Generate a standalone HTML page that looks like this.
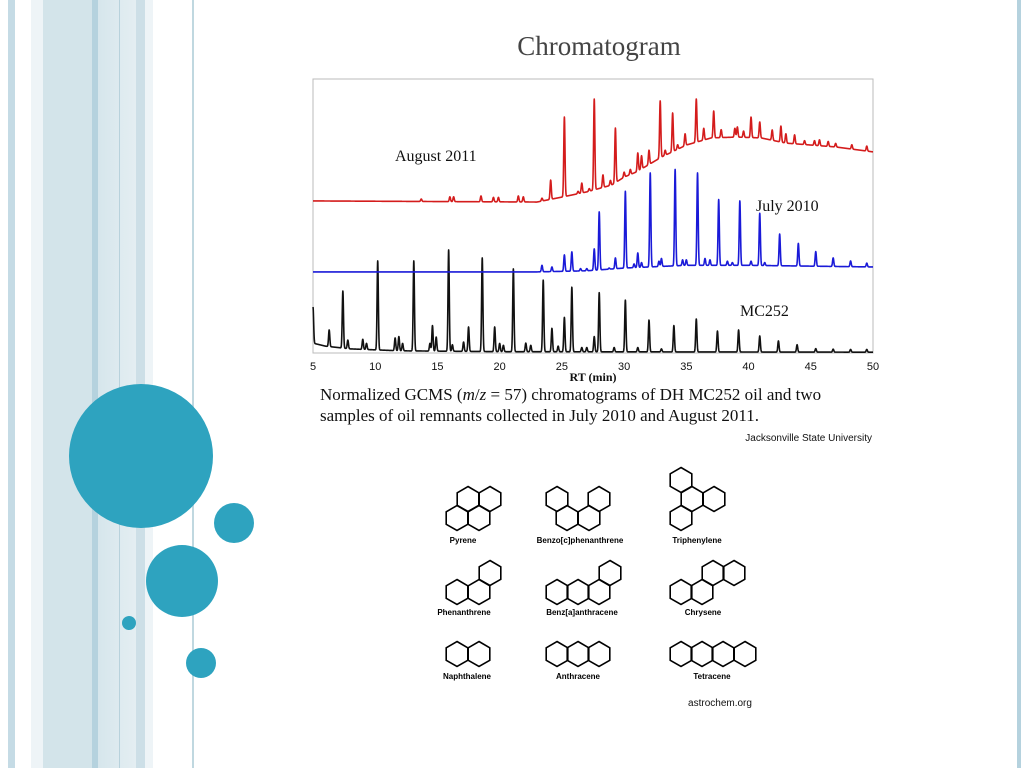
<!DOCTYPE html>
<html><head><meta charset="utf-8"><style>
body{margin:0;width:1024px;height:768px;overflow:hidden;background:#fff;position:relative;font-family:"Liberation Sans",sans-serif}
.s{position:absolute;top:0;height:768px}
.t{position:absolute;white-space:nowrap}
</style></head><body>
<div class="s" style="left:8px;width:7px;background:#c5dbe5"></div>
<div class="s" style="left:31px;width:12px;background:#eef4f7"></div>
<div class="s" style="left:43px;width:49px;background:#d3e4ea"></div>
<div class="s" style="left:92px;width:6px;background:#b5d2de"></div>
<div class="s" style="left:98px;width:38px;background:linear-gradient(90deg,#d6e6ec,#e4eef2)"></div>
<div class="s" style="left:119px;width:1px;background:#b8d2dc"></div>
<div class="s" style="left:136px;width:9px;background:#cddfe7"></div>
<div class="s" style="left:145px;width:8px;background:#eef4f7"></div>
<div class="s" style="left:192px;width:2px;background:#c0d8e0"></div>
<div class="s" style="left:1017px;width:4px;background:#b5d2de"></div>

<svg width="1024" height="768" style="position:absolute;left:0;top:0">
<g fill="#2ea3bf">
<circle cx="141" cy="456" r="72"/><circle cx="234" cy="523" r="20"/><circle cx="182" cy="581" r="36"/><circle cx="129" cy="623" r="7"/><circle cx="201" cy="663" r="15"/>
</g></svg>

<div class="t" style="left:0;width:1198px;text-align:center;top:31px;font:27px 'Liberation Serif',serif;color:#444">Chromatogram</div>

<svg id="chart" width="1024" height="768" style="position:absolute;left:0;top:0"></svg>

<div class="t" style="left:320px;top:384px;font:17px/21px 'Liberation Serif',serif;color:#111">Normalized GCMS (<i>m</i>/<i>z</i> = 57) chromatograms of DH MC252 oil and two<br>samples of oil remnants collected in July 2010 and August 2011.</div>
<div class="t" style="left:700px;width:172px;text-align:right;top:433px;font-size:10px;color:#111">Jacksonville State University</div>
<div class="t" style="left:660px;width:120px;text-align:center;top:698px;font-size:10px;color:#111">astrochem.org</div>

<svg id="mol" width="1024" height="768" style="position:absolute;left:0;top:0"></svg>

<script>
// ---- chart data ----
const xTicks=[5,10,15,20,25,30,35,40,45,50];
const blackBase=[[5,3.6],[6,2.5],[8,1.5],[12,0.8],[20,0.5],[50,0.3]];
const blackPeaks=[[5.0,16.8],[6.3,8.4],[7.4,22.6],[7.8,4.7],[9.0,5],[9.3,3.5],[10.2,33.6],[11.6,5.5],[11.9,6],[12.2,3.5],[13.1,33.6],[14.4,3.5],[14.6,10],[14.9,5.8],[15.9,37.6],[16.2,3],[17.1,4],[17.5,9.5],[18.6,34.7],[19.6,9.5],[20.0,3.5],[20.3,2.8],[21.1,30.7],[22.1,3.6],[22.5,2.8],[23.5,26.6],[24.2,9],[24.7,2.5],[25.2,13],[25.8,24],[26.6,2],[27.0,2],[27.6,6],[28.0,22],[29.2,2],[30.1,19.3],[31.1,2],[32.0,12],[33.0,1.5],[34.0,10],[35.8,12.4],[37.5,8],[39.2,8.4],[40.9,6.2],[42.4,4.4],[43.9,3],[45.4,1.6],[46.8,1.4],[48.2,1.3],[49.5,1.3]];
const blueBase=[[5,29.6],[23,29.6],[27,30],[30,31],[35,32],[40,32],[50,31.4]];
const bluePeaks=[[23.4,32],[24.2,31.4],[25.2,35.8],[25.8,36.9],[26.5,30.8],[27.0,30.8],[27.6,38],[28.0,51.5],[28.8,31],[29.3,34.7],[30.1,59],[30.8,32.5],[31.1,36.5],[31.4,33],[32.1,65.7],[32.8,33.5],[33.0,34.5],[34.1,67],[34.7,34],[35.0,34],[35.9,65.7],[36.5,34.5],[36.9,34],[37.6,56],[38.3,33.5],[38.7,33],[39.3,55.5],[40.2,33.5],[40.9,51],[41.3,33],[42.5,43.4],[44.0,40],[45.4,37],[46.8,34.7],[48.2,33.6],[49.5,32.8]];
const redBase=[[5,55.5],[23,55.1],[25,56.9],[27,58.8],[29,61.3],[30,64.2],[31,66.1],[33,71.5],[35,75.9],[37,78.5],[39,78.8],[41,78.5],[43,76.6],[45,75.9],[47,75.2],[50,73.4]];
const redPeaks=[[13.7,56.2],[16.0,57],[16.3,57],[18.5,57.3],[19.5,56.8],[19.9,56.8],[21.5,57.3],[21.9,57],[23.4,56.5],[24.1,63.1],[25.2,86.1],[26.3,59],[26.6,62],[27.2,60],[27.6,92.7],[28.3,65],[28.9,63],[29.3,82.1],[30.0,66],[30.5,67],[31.1,73],[31.4,72],[32.0,74],[32.9,92],[33.3,74],[33.9,87.6],[34.3,76],[34.9,80],[35.8,92.7],[36.4,82],[37.2,88.3],[37.8,81.5],[38.9,82],[39.1,82.5],[39.6,81],[40.2,86.1],[40.9,84.3],[41.9,81.4],[42.6,82.8],[43.0,80],[43.7,79.6],[44.5,77.5],[45.3,77.5],[45.7,77.8],[46.4,77.2],[47.0,76.5],[48.3,76],[49.5,75.5]];

const X0=313,X1=873,Y0=353,Y1=79;
function xs(v){return X0+(v-5)/(50-5)*(X1-X0);}
function ys(v){return Y0-v/100*(Y0-Y1);}
function interp(arr,x){if(x<=arr[0][0])return arr[0][1];for(let i=1;i<arr.length;i++){if(x<=arr[i][0]){const a=arr[i-1],b=arr[i];return a[1]+(b[1]-a[1])*(x-a[0])/(b[0]-a[0]);}}return arr[arr.length-1][1];}
const svg=document.getElementById('chart');const NS='http://www.w3.org/2000/svg';
function mk(tag,attrs){const e=document.createElementNS(NS,tag);for(const k in attrs)e.setAttribute(k,attrs[k]);svg.appendChild(e);return e;}
const frame=mk('rect',{x:X0,y:Y1,width:X1-X0,height:Y0-Y1,fill:'none',stroke:'#bbb','stroke-width':1});


function trace(base,peaks,color,name){
  const amps=peaks.map(p=>[p[0],p[1]-interp(base,p[0])]);
  let pts=[];
  for(let x=5;x<=50.0001;x+=0.01){
    let v=interp(base,x);
    for(const p of amps){const d=(x-p[0])/0.05;if(Math.abs(d)<5)v+=p[1]*Math.exp(-d*d/2);}
    pts.push(xs(x).toFixed(2)+','+ys(v).toFixed(2));
  }
  const pl=mk('polyline',{points:pts.join(' '),fill:'none',stroke:color,'stroke-width':1.6,'stroke-linejoin':'round'});
  
  
}
trace(blackBase,blackPeaks,'#111','series-mc252');
trace(blueBase,bluePeaks,'#1a1ad8','series-july-2010');
trace(redBase,redPeaks,'#d41c1c','series-august-2011');
for(const t of xTicks){
  const tx=mk('text',{x:xs(t),y:370,'text-anchor':'middle','font-size':11,'font-family':'Liberation Sans, sans-serif',fill:'#111'});
  tx.textContent=t;
  
  
}
const xt=mk('text',{x:593,y:381,'text-anchor':'middle','font-size':12,'font-weight':'bold','font-family':'Liberation Serif, serif',fill:'#111'});
xt.textContent='RT (min)';


const labels=[['August 2011',395,161,'label-august-2011'],['July 2010',756,211,'label-july-2010'],['MC252',740,316,'label-mc252']];
for(const l of labels){
  const e=mk('text',{x:l[1],y:l[2],'font-size':16,'font-family':'Liberation Serif, serif',fill:'#111'});
  e.textContent=l[0];
  
  
}

// ---- molecules ----
const mol=document.getElementById('mol');
const S=12.5,H=S*Math.sqrt(3)/2;
const mols=[
 ['Pyrene',463,540,[[468,499],[490,499],[457,518],[479,518]]],
 ['Benzo[c]phenanthrene',580,540,[[557,499],[599,499],[567,518],[589,518]]],
 ['Triphenylene',697,540,[[681,480],[692,499],[714,499],[681,518]]],
 ['Phenanthrene',464,612,[[490,573],[479,592],[457,592]]],
 ['Benz[a]anthracene',582,612,[[610,573],[557,592],[578,592],[599,592]]],
 ['Chrysene',703,612,[[713,573],[734,573],[681,592],[702,592]]],
 ['Naphthalene',467,676,[[457,654],[479,654]]],
 ['Anthracene',578,676,[[557,654],[578,654],[599,654]]],
 ['Tetracene',712,676,[[681,654],[702,654],[723,654],[745,654]]]
];
for(const m of mols){
  const g=document.createElementNS(NS,'g');
  
  
  for(const c of m[3]){
    const [cx,cy]=c;
    const p=[[cx,cy-S],[cx+H,cy-S/2],[cx+H,cy+S/2],[cx,cy+S],[cx-H,cy+S/2],[cx-H,cy-S/2]];
    const poly=document.createElementNS(NS,'polygon');
    poly.setAttribute('points',p.map(q=>q[0].toFixed(1)+','+q[1].toFixed(1)).join(' '));
    poly.setAttribute('fill','none');poly.setAttribute('stroke','#000');poly.setAttribute('stroke-width','1.6');
    g.appendChild(poly);
  }
  const t=document.createElementNS(NS,'text');
  t.setAttribute('x',m[1]);t.setAttribute('y',m[2]+3);t.setAttribute('text-anchor','middle');
  t.setAttribute('font-size','8');t.setAttribute('font-weight','bold');t.setAttribute('font-family','Liberation Sans, sans-serif');
  t.textContent=m[0];
  g.appendChild(t);
  mol.appendChild(g);
}
</script>
</body></html>
